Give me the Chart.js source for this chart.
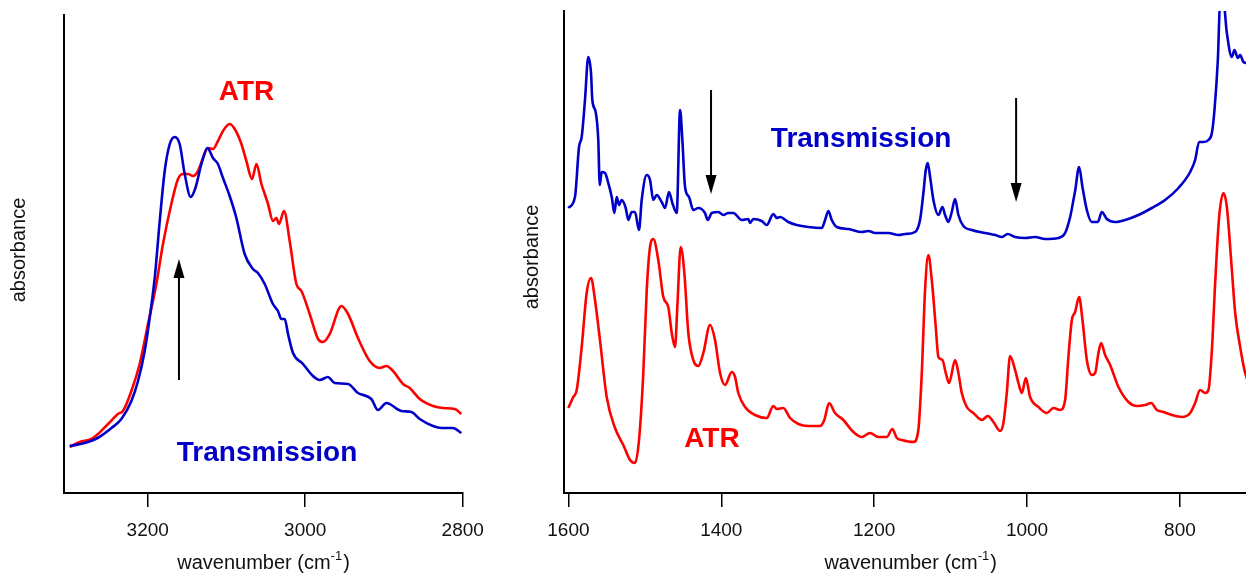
<!DOCTYPE html>
<html>
<head>
<meta charset="utf-8">
<script src="https://cdn.jsdelivr.net/npm/chart.js@4.4.1/dist/chart.umd.min.js"></script>
<style>
  html, body { margin: 0; padding: 0; background: #fff; overflow: hidden; width: 1246px; height: 573px; }
  canvas { position: absolute; top: 0; }
  #left { left: 0; }
  #right { left: 500px; }
</style>
</head>
<body>
<canvas id="left" width="500" height="573"></canvas>
<canvas id="right" width="760" height="573"></canvas>
<script>
// ---- C–H stretch region: [wavenumber (cm-1), absorbance] ----
const chTransmission = [
  [3299,0.047],[3280,0.050],[3263.5,0.055],[3246,0.065],[3233.4,0.074],[3220.7,0.092],[3212.3,0.112],
  [3203.8,0.142],[3197.5,0.175],[3191.1,0.215],[3184.7,0.272],[3178.4,0.322],[3172,0.349],[3165.7,0.356],
  [3159.4,0.349],[3153,0.319],[3145.4,0.296],[3139.4,0.305],[3131.8,0.329],[3124.2,0.345],[3117.1,0.335],
  [3110.8,0.329],[3104.4,0.315],[3095.9,0.297],[3087.4,0.275],[3076.9,0.239],[3066.3,0.224],[3060,0.220],
  [3051.4,0.209],[3041,0.189],[3034.6,0.182],[3030.3,0.174],[3026,0.174],[3021.8,0.159],[3015.5,0.140],
  [3002.8,0.129],[2990.1,0.117],[2981.6,0.113],[2971.1,0.116],[2962.6,0.110],[2945.6,0.109],[2933,0.100],
  [2916,0.094],[2907.6,0.083],[2896.9,0.090],[2877.9,0.082],[2865.2,0.081],[2854.6,0.074],[2837.7,0.067],
  [2827.1,0.065],[2812.4,0.065],[2801.7,0.060]
];
const chATR = [
  [3299,0.046],[3286.4,0.051],[3271.5,0.054],[3263.1,0.059],[3250.4,0.069],[3237.7,0.079],[3231.4,0.082],
  [3220.7,0.102],[3210.2,0.129],[3199.6,0.169],[3189,0.209],[3180.6,0.249],[3170,0.289],[3161.5,0.314],
  [3155.2,0.319],[3148.8,0.319],[3142.5,0.317],[3136.1,0.322],[3129.8,0.335],[3123.4,0.345],[3117.1,0.344],
  [3110.8,0.352],[3104.4,0.362],[3095.9,0.369],[3089.5,0.364],[3081,0.349],[3074.7,0.332],[3067.5,0.314],
  [3061.9,0.329],[3055.6,0.309],[3051.4,0.299],[3047.2,0.289],[3040.9,0.272],[3036.6,0.275],[3033.3,0.269],
  [3026.9,0.282],[3019.7,0.252],[3011.2,0.209],[3004.8,0.202],[2994.3,0.179],[2983.7,0.154],[2977.4,0.151],
  [2968.9,0.159],[2954,0.187],[2945.6,0.179],[2933,0.155],[2918.1,0.132],[2905.4,0.125],[2896.9,0.127],
  [2888.5,0.122],[2875.8,0.109],[2867.3,0.105],[2854.6,0.094],[2837.7,0.087],[2825,0.085],[2810.1,0.084],
  [2801.7,0.079]
];

// ---- fingerprint region: [wavenumber (cm-1), absorbance] ----
const fpTransmission = [
  [1600.1,0.285],[1591.4,0.296],[1586.1,0.346],[1582.6,0.356],[1578.3,0.393],[1574,0.436],[1570.4,0.420],
  [1568.7,0.393],[1564.3,0.381],[1560.9,0.353],[1559,0.308],[1556.4,0.321],[1552.1,0.320],[1547.8,0.310],
  [1543.3,0.296],[1539.9,0.280],[1536.8,0.296],[1533.8,0.288],[1530.3,0.293],[1525,0.285],[1521.6,0.273],
  [1517.2,0.281],[1512.9,0.281],[1507.6,0.263],[1504.1,0.293],[1497.5,0.318],[1493.2,0.313],[1488.9,0.293],
  [1484.5,0.298],[1477.9,0.291],[1473.6,0.285],[1468.4,0.301],[1464,0.290],[1458.3,0.280],[1453.9,0.383],
  [1450.9,0.353],[1447.4,0.306],[1442.2,0.296],[1436.6,0.283],[1430,0.285],[1421.3,0.280],[1417.7,0.273],
  [1412.5,0.280],[1403.9,0.281],[1397.3,0.278],[1390.8,0.280],[1384.2,0.280],[1373.2,0.273],[1364.6,0.274],
  [1362.4,0.270],[1358.1,0.274],[1347.1,0.272],[1340.5,0.268],[1331.9,0.279],[1327.4,0.275],[1323.1,0.276],
  [1312.3,0.271],[1301.3,0.268],[1286.1,0.266],[1268.6,0.265],[1264.2,0.273],[1259.9,0.282],[1255.5,0.273],
  [1248.9,0.266],[1233.7,0.264],[1216.2,0.261],[1207.6,0.262],[1198.8,0.260],[1181.4,0.260],[1168.3,0.258],
  [1159.6,0.259],[1146.5,0.261],[1140,0.273],[1135.6,0.300],[1132.5,0.323],[1129.9,0.330],[1126.8,0.316],
  [1122.5,0.293],[1116,0.278],[1110.7,0.286],[1107.2,0.278],[1102.9,0.271],[1098.5,0.281],[1094.1,0.294],
  [1089.8,0.278],[1083.3,0.267],[1072.3,0.263],[1054.9,0.260],[1041.8,0.258],[1033,0.256],[1025.2,0.259],
  [1015.6,0.256],[1002.5,0.255],[989.5,0.256],[976.4,0.254],[958.9,0.255],[950.2,0.260],[943.6,0.276],
  [939.3,0.293],[937.1,0.302],[931.9,0.326],[927.5,0.306],[921.8,0.283],[915.3,0.271],[907.4,0.271],
  [902.2,0.281],[895.6,0.274],[884.8,0.271],[871.7,0.273],[854.3,0.278],[836.8,0.285],[819.4,0.293],
  [801.9,0.305],[786.6,0.321],[780.1,0.333],[774.9,0.351],[769.2,0.351],[762.7,0.353],[758.2,0.360],
  [754.8,0.383],[750.4,0.433],[747.4,0.490],[743,0.490],[738.6,0.460],[732.1,0.436],[728.7,0.443],
  [724.2,0.435],[721.2,0.438],[716.9,0.431],[713.4,0.430],[705,0.425],[698,0.420]
];
const fpATR = [
  [1600.1,0.085],[1593.6,0.096],[1589.1,0.103],[1582.6,0.146],[1576.1,0.200],[1570.4,0.215],[1565.2,0.193],
  [1558.7,0.153],[1549.9,0.096],[1539,0.065],[1528.2,0.048],[1519.4,0.033],[1512.9,0.030],[1507.6,0.053],
  [1502,0.120],[1497.5,0.203],[1493.2,0.246],[1488.9,0.254],[1482.4,0.233],[1475.8,0.196],[1469.3,0.186],
  [1464.8,0.160],[1460.5,0.146],[1457.5,0.186],[1453.1,0.246],[1448.3,0.220],[1443.1,0.160],[1436.6,0.133],
  [1430,0.127],[1423.5,0.140],[1414.7,0.168],[1408.2,0.153],[1401.6,0.120],[1395.1,0.108],[1386.3,0.121],
  [1382,0.116],[1377.7,0.100],[1368.9,0.086],[1355.8,0.078],[1340.5,0.075],[1331.9,0.087],[1327.4,0.084],
  [1318.8,0.085],[1310,0.075],[1299.2,0.069],[1286.1,0.067],[1270.8,0.067],[1265.2,0.073],[1259,0.090],
  [1251.2,0.080],[1240.3,0.073],[1227.2,0.061],[1216.2,0.056],[1205.4,0.060],[1194.5,0.056],[1183.5,0.056],
  [1176.2,0.064],[1170.4,0.055],[1163.9,0.053],[1148.7,0.051],[1142.2,0.063],[1137.7,0.120],[1133.4,0.203],
  [1129.1,0.238],[1124.6,0.213],[1119.4,0.166],[1116,0.136],[1110.7,0.133],[1106.3,0.120],[1102,0.110],
  [1094.1,0.133],[1089.8,0.120],[1085.4,0.100],[1078.8,0.086],[1070.2,0.080],[1059.2,0.073],[1051.3,0.077],
  [1044,0.071],[1035.2,0.062],[1030.9,0.070],[1026.5,0.100],[1022.2,0.137],[1015.6,0.123],[1011.3,0.110],
  [1006.8,0.100],[1001.6,0.115],[996,0.096],[985.1,0.086],[974.1,0.080],[965.5,0.085],[956.7,0.083],
  [950.2,0.093],[945.9,0.136],[941.4,0.173],[937.1,0.181],[931.9,0.196],[927.5,0.173],[921.8,0.133],
  [915.3,0.118],[910.9,0.120],[906.6,0.140],[903.1,0.150],[897.9,0.138],[891.3,0.128],[880.4,0.106],
  [867.3,0.091],[856.4,0.087],[845.5,0.088],[837.7,0.090],[830.2,0.083],[821.6,0.081],[810.6,0.078],
  [797.5,0.076],[786.6,0.080],[780.1,0.090],[773.6,0.103],[767,0.100],[762.7,0.103],[758.2,0.143],
  [753.9,0.210],[748.7,0.276],[743,0.300],[738.6,0.286],[733,0.233],[727.7,0.180],[721.2,0.146],
  [714.7,0.120],[705,0.100],[698,0.090]
];

// ---- tick labels ----
const chTicks = [3200, 3000, 2800];
const fpTicks = [1600, 1400, 1200, 1000, 800];

const FONT = '"Liberation Sans", Arial, Helvetica, sans-serif';
const BLUE = 'rgb(0,0,200)';
const RED = 'rgb(255,0,0)';
const INK = '#111';

// Arrows, series labels and axis titles
const decorations = {
  id: 'decorations',
  afterDatasetsDraw(chart, args, opts) {
    const { ctx } = chart;
    const x = chart.scales.x, y = chart.scales.y;
    ctx.save();
    (opts.arrows || []).forEach(a => {
      const px = x.getPixelForValue(a.x);
      const y0 = y.getPixelForValue(a.from);
      const y1 = y.getPixelForValue(a.to);
      const dir = Math.sign(y1 - y0);
      const headLen = 19, half = 5.5;
      ctx.strokeStyle = '#000';
      ctx.lineWidth = 2;
      ctx.beginPath();
      ctx.moveTo(px, y0);
      ctx.lineTo(px, y1 - dir * headLen);
      ctx.stroke();
      ctx.fillStyle = '#000';
      ctx.beginPath();
      ctx.moveTo(px, y1);
      ctx.lineTo(px - half, y1 - dir * headLen);
      ctx.lineTo(px + half, y1 - dir * headLen);
      ctx.closePath();
      ctx.fill();
    });
    (opts.labels || []).forEach(l => {
      ctx.font = 'bold 28px ' + FONT;
      ctx.fillStyle = l.color;
      ctx.textAlign = 'center';
      ctx.textBaseline = 'alphabetic';
      ctx.fillText(l.text, x.getPixelForValue(l.x), y.getPixelForValue(l.y));
    });
    ctx.restore();
  },
  afterDraw(chart, args, opts) {
    const { ctx, chartArea } = chart;
    ctx.save();
    ctx.fillStyle = INK;
    ctx.textBaseline = 'alphabetic';
    ctx.textAlign = 'left';
    // x-axis title: wavenumber (cm^-1)
    const main = 'wavenumber (cm', sup = '-1', close = ')';
    const big = '20px ' + FONT, small = '13px ' + FONT;
    ctx.font = big;
    const wMain = ctx.measureText(main).width;
    const wClose = ctx.measureText(close).width;
    ctx.font = small;
    const wSup = ctx.measureText(sup).width;
    const total = wMain + wSup + 1 + wClose;
    let cx = (chartArea.left + chartArea.right) / 2 - total / 2;
    const base = opts.xTitleBaseline;
    ctx.font = big;
    ctx.fillText(main, cx, base);
    cx += wMain;
    ctx.font = small;
    ctx.fillText(sup, cx, base - 9);
    cx += wSup + 1;
    ctx.font = big;
    ctx.fillText(close, cx, base);
    // y-axis title
    ctx.translate(opts.yTitleX, opts.yTitleY);
    ctx.rotate(-Math.PI / 2);
    ctx.textAlign = 'center';
    ctx.textBaseline = 'middle';
    ctx.font = big;
    ctx.fillText('absorbance', 0, 0);
    ctx.restore();
  }
};

function spectrumChart(id, cfg) {
  return new Chart(document.getElementById(id), {
    type: 'line',
    data: {
      datasets: cfg.series.map(s => ({
        data: s.data.map(([x, y]) => ({ x, y })),
        borderColor: s.color,
        borderWidth: 2.6,
        pointRadius: 0,
        fill: false,
        cubicInterpolationMode: 'monotone'
      }))
    },
    options: {
      responsive: false,
      animation: false,
      events: [],
      layout: { padding: { top: cfg.padTop, right: cfg.padRight, left: 0, bottom: 0 } },
      scales: {
        x: {
          type: 'linear',
          reverse: true,
          min: cfg.xMin,
          max: cfg.xMax,
          afterBuildTicks: s => { s.ticks = cfg.ticks.map(v => ({ value: v })); },
          afterFit: s => { s.height = 80; },
          ticks: {
            autoSkip: false,
            maxRotation: 0,
            padding: 12,
            color: INK,
            font: { family: FONT, size: 19 },
            callback: v => String(v)
          },
          grid: { display: true, drawOnChartArea: false, drawTicks: true, tickLength: 14, color: '#000', lineWidth: 1.5 },
          border: { display: true, color: '#000', width: 2 }
        },
        y: {
          min: 0,
          max: cfg.yMax,
          afterFit: s => { s.width = cfg.yWidth; },
          ticks: { display: false },
          grid: { display: false },
          border: { display: true, color: '#000', width: 2 }
        }
      },
      plugins: {
        legend: { display: false },
        tooltip: { enabled: false },
        decorations: cfg.decorations
      }
    },
    plugins: [decorations]
  });
}

spectrumChart('left', {
  series: [
    { data: chTransmission, color: BLUE },
    { data: chATR, color: RED }
  ],
  xMin: 2800, xMax: 3305.9, ticks: chTicks,
  yMax: 0.478, yWidth: 64.3, padTop: 15, padRight: 37.3,
  decorations: {
    xTitleBaseline: 569, yTitleX: 19, yTitleY: 250,
    arrows: [{ x: 3160.3, from: 0.113, to: 0.234 }],
    labels: [
      { text: 'ATR', color: RED, x: 3074.5, y: 0.393 },
      { text: 'Transmission', color: BLUE, x: 3048.5, y: 0.032 }
    ]
  }
});

spectrumChart('right', {
  series: [
    { data: fpTransmission, color: BLUE },
    { data: fpATR, color: RED }
  ],
  xMin: 698, xMax: 1606.4, ticks: fpTicks,
  yMax: 0.482, yWidth: 63.5, padTop: 11, padRight: 2.1,
  decorations: {
    xTitleBaseline: 569, yTitleX: 32, yTitleY: 257,
    arrows: [
      { x: 1413.4, from: 0.403, to: 0.299 },
      { x: 1014.3, from: 0.395, to: 0.291 }
    ],
    labels: [
      { text: 'Transmission', color: BLUE, x: 1217.1, y: 0.346 },
      { text: 'ATR', color: RED, x: 1412.2, y: 0.046 }
    ]
  }
});
</script>
</body>
</html>
